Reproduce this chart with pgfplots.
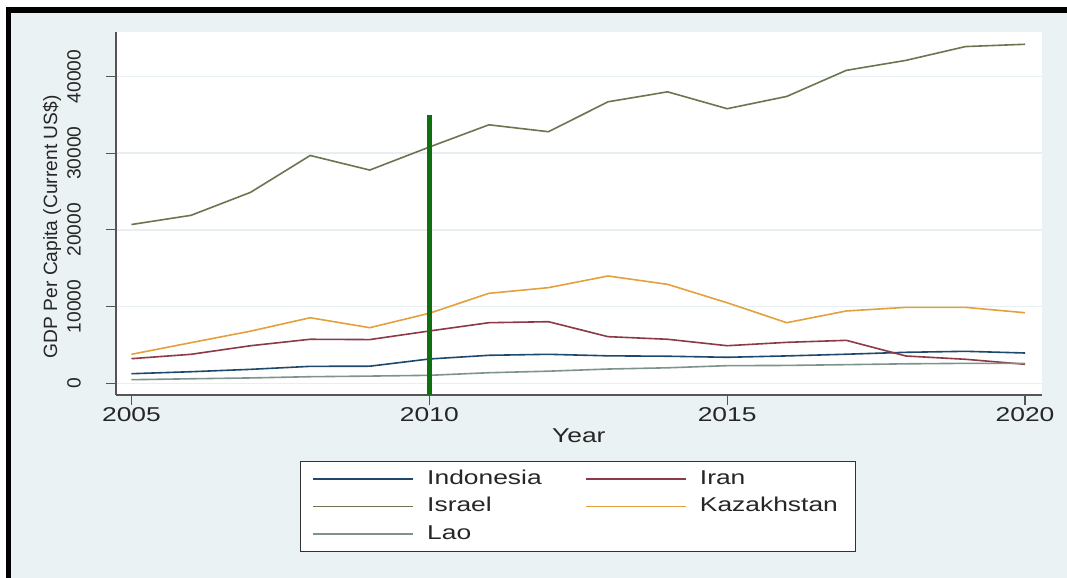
\documentclass[border=0pt]{standalone}
\usepackage{fontspec}
\setmainfont{Liberation Sans}
\newfontfamily\widefont[FakeStretch=1.32]{Liberation Sans}
\usepackage{pgfplots}
\pgfplotsset{compat=1.18}

\definecolor{bgcol}{RGB}{234,242,243}
\definecolor{gridcol}{RGB}{232,239,242}
\definecolor{axcol}{RGB}{85,85,85}
\definecolor{indo}{RGB}{30,72,110}
\definecolor{iran}{RGB}{140,58,72}
\definecolor{isr}{RGB}{105,118,80}
\definecolor{kaz}{RGB}{228,160,60}
\definecolor{lao}{RGB}{125,148,142}
\definecolor{vgreen}{RGB}{16,112,16}

\begin{document}
\begin{tikzpicture}[x=1pt,y=1pt]
% page, grey graph region and the black frame on left and top
\fill[white] (0,0) rectangle (533.5,289);
\fill[bgcol] (5.7,0) rectangle (533.5,282.65);
\fill[black] (3.1,0) rectangle (5.7,285.35);
\fill[black] (3.1,282.65) rectangle (533.5,285.35);

\begin{axis}[
  at={(58pt,91.5pt)}, anchor=south west,
  scale only axis, width=462.85pt, height=181.65pt,
  xmin=2004.74, xmax=2020.28, ymin=-1525, ymax=45840,
  axis x line*=bottom, axis y line*=left,
  axis line style={axcol, line width=0.75pt, -},
  axis background/.style={fill=white},
  xtick={2005,2010,2015,2020},
  ytick={0,10000,20000,30000,40000},
  tick align=outside, major tick length=5pt,
  tick style={axcol, line width=0.6pt},
  ymajorgrids, grid style={gridcol, line width=0.7pt},
  scaled y ticks=false,
  /pgf/number format/1000 sep={},
  /pgf/number format/assume math mode=true,
  xticklabel style={font=\widefont\fontsize{10}{12}\selectfont, anchor=base, text=black!85},
  xticklabel shift=8.3pt,
  yticklabel style={font=\fontsize{9.6}{11}\selectfont, rotate=90, anchor=base, text=black!85},
  yticklabel shift=12.75pt,
  xlabel={Year},
  xlabel style={at={(axis description cs:0.5,-0.1321)}, anchor=base,
    font=\widefont\fontsize{10}{12}\selectfont, text=black!85},
  ylabel={GDP Per Capita (Current US\$)},
  ylabel style={at={(axis description cs:-0.0637,0.463)}, anchor=base,
    font=\fontsize{9.6}{11}\selectfont, text=black!85},
  legend columns=2,
  legend cell align=left,
  legend image code/.code={\draw[#1] (0pt,0pt) -- (50pt,0pt);},
  legend style={at={(0.1988,-0.1817)}, anchor=north west, draw=black!80, line width=0.6pt,
    fill=white, inner xsep=6pt, inner ysep=4.25pt, row sep=4.75pt,
    nodes={inner sep=0pt, text height=7pt, text depth=2pt,
      font=\widefont\fontsize{10}{12}\selectfont, text=black!85},
    /tikz/every odd column/.append style={column sep=6.5pt},
    /tikz/every even column/.append style={column sep=21.8pt}},
]
\addplot[indo, line width=0.8pt] coordinates {
  (2005,1250) (2006,1510) (2007,1820) (2008,2210) (2009,2230) (2010,3170)
  (2011,3650) (2012,3780) (2013,3580) (2014,3530) (2015,3390) (2016,3570)
  (2017,3790) (2018,4040) (2019,4170) (2020,3950)};
\addlegendentry{Indonesia}
\addplot[iran, line width=0.8pt] coordinates {
  (2005,3210) (2006,3780) (2007,4900) (2008,5740) (2009,5700) (2010,6820)
  (2011,7900) (2012,8030) (2013,6080) (2014,5740) (2015,4900) (2016,5340)
  (2017,5600) (2018,3560) (2019,3130) (2020,2480)};
\addlegendentry{Iran}
\addplot[isr, line width=0.8pt] coordinates {
  (2005,20700) (2006,21900) (2007,24900) (2008,29700) (2009,27800) (2010,30800)
  (2011,33700) (2012,32800) (2013,36700) (2014,38000) (2015,35800) (2016,37400)
  (2017,40800) (2018,42100) (2019,43900) (2020,44200)};
\addlegendentry{Israel}
\addplot[kaz, line width=0.8pt] coordinates {
  (2005,3780) (2006,5300) (2007,6800) (2008,8550) (2009,7250) (2010,9130)
  (2011,11730) (2012,12470) (2013,13990) (2014,12900) (2015,10500) (2016,7900)
  (2017,9430) (2018,9900) (2019,9900) (2020,9200)};
\addlegendentry{Kazakhstan\hspace*{3pt}}
\addplot[lao, line width=0.8pt] coordinates {
  (2005,470) (2006,590) (2007,700) (2008,860) (2009,940) (2010,1040)
  (2011,1380) (2012,1580) (2013,1860) (2014,2020) (2015,2300) (2016,2330)
  (2017,2430) (2018,2540) (2019,2600) (2020,2600)};
\addlegendentry{Lao}
% marker line at 2010
\addplot[vgreen, line width=2.5pt, forget plot] coordinates {(2010,-1525) (2010,35000)};
\end{axis}
\end{tikzpicture}
\end{document}
